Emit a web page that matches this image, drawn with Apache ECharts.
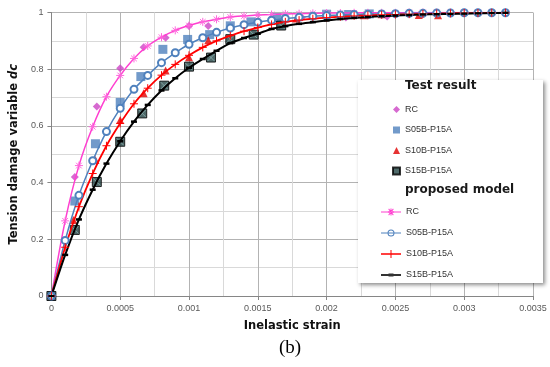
<!DOCTYPE html>
<html>
<head>
<meta charset="utf-8">
<script src="https://cdn.jsdelivr.net/npm/echarts@6/dist/echarts.min.js"></script>
<style>
html,body{margin:0;padding:0;background:#fff;}
#c{width:550px;height:367px;}
</style>
</head>
<body>
<div id="c"></div>
<script>
// ---- data ----
const modelStrain = [0,0.0001,0.0002,0.0003,0.0004,0.0005,0.0006,0.0007,0.0008,0.0009,0.001,0.0011,0.0012,0.0013,0.0014,0.0015,0.0016,0.0017,0.0018,0.0019,0.002,0.0021,0.0022,0.0023,0.0024,0.0025,0.0026,0.0027,0.0028,0.0029,0.003,0.0031,0.0032,0.0033];
const rcModel  = [0,0.265,0.46,0.597,0.703,0.778,0.838,0.882,0.913,0.937,0.954,0.967,0.976,0.984,0.988,0.991,0.993,0.995,0.996,0.997,0.998,0.998,0.999,0.999,0.999,0.999,1,1,1,1,1,1,1,1];
const s05Model = [0,0.196,0.355,0.477,0.58,0.662,0.729,0.778,0.823,0.858,0.888,0.911,0.930,0.945,0.957,0.966,0.973,0.979,0.983,0.987,0.989,0.991,0.993,0.994,0.995,0.996,0.997,0.997,0.998,0.998,0.999,0.999,0.999,0.999];
const s10Model = [0,0.172,0.315,0.432,0.53,0.609,0.678,0.733,0.779,0.817,0.849,0.877,0.900,0.918,0.934,0.947,0.958,0.967,0.973,0.978,0.982,0.985,0.988,0.990,0.992,0.993,0.994,0.995,0.996,0.997,0.998,0.998,0.999,0.999];
const s15Model = [0,0.145,0.27,0.375,0.467,0.546,0.615,0.674,0.725,0.768,0.805,0.836,0.865,0.892,0.910,0.925,0.942,0.952,0.960,0.966,0.972,0.977,0.981,0.984,0.987,0.989,0.991,0.993,0.994,0.995,0.996,0.997,0.998,0.999];

const rcTestX  = [0,0.00017,0.00033,0.0005,0.00067,0.00083,0.001,0.00114,0.00182,0.00214,0.00244];
const rcTestY  = [0,0.42,0.668,0.803,0.877,0.911,0.952,0.952,0.982,0.982,0.986];
const s05TestX = [0,0.00017,0.00032,0.0005,0.00065,0.00081,0.00099,0.00115,0.0013,0.00145,0.00164,0.002,0.00216,0.00231];
const s05TestY = [0,0.335,0.537,0.683,0.774,0.870,0.905,0.922,0.953,0.967,0.982,0.994,0.993,0.995];
const s10TestX = [0,0.00016,0.00032,0.0005,0.00067,0.00083,0.001,0.00114,0.00178,0.00211,0.00227,0.0024,0.00267,0.00281];
const s10TestY = [0,0.268,0.48,0.621,0.715,0.795,0.842,0.902,0.979,0.989,0.990,0.994,0.991,0.99];
const s15TestX = [0,0.00017,0.00033,0.0005,0.00066,0.00082,0.001,0.00116,0.0013,0.00147,0.00167];
const s15TestY = [0,0.233,0.402,0.544,0.644,0.742,0.809,0.841,0.906,0.922,0.954];

const specimens = ['RC','S05B-P15A','S10B-P15A','S15B-P15A'];
const xTicks = {min:0, max:0.0035, step:0.0005};
const yTicks = {min:0, max:1, step:0.2};
// -------------------------------------

function pairs(xs, ys){ return xs.map((x,i)=>[x, ys[i]]); }
const testName = n => n + ' ';   // distinct names for the legend, trimmed on display

const C = {rcTest:'#CC44C4', s05:'#4F81BD', s10Test:'#E00000', s15Test:'#234545',
           rcLine:'#FF3FD0', rcMark:'#FF66DD', s10Line:'#FF0000', s15Line:'#000000'};

const asterisk = 'path://M0 5L10 5M5 0L5 10M1.5 1.5L8.5 8.5M8.5 1.5L1.5 8.5';
const plus = 'path://M0 5L10 5M5 0L5 10';
const cross = 'path://M1 1L9 9M9 1L1 9';

// legend icons (line + marker), filled shapes in a 20 x 8 box
const iconRC  = 'path://M0 3.4H20V4.6H0Z M9.5 0.5H10.5V7.5H9.5Z M6.9 3.2H13.1V4.8H6.9Z M7.3 1.2L8 0.5L12.7 6.8L12 7.5Z M12.7 1.2L12 0.5L7.3 6.8L8 7.5Z';
const iconS05 = 'path://M0 3.4H20V4.6H0Z M13.5 4A3.5 3.5 0 1 1 6.5 4A3.5 3.5 0 1 1 13.5 4Z M12.5 4A2.5 2.5 0 1 0 7.5 4A2.5 2.5 0 1 0 12.5 4Z';
const iconS10 = 'path://M0 3.2H20V4.8H0Z M9.5 0H10.5V8H9.5Z';
const iconS15 = 'path://M0 0H20V0.01H0Z M0 3.1H20V4.9H0Z M7.5 2.5H12.5V5.5H7.5Z M0 7.99H20V8H0Z';

const font = '"DejaVu Sans", Verdana, sans-serif';
const labelFont = '"Liberation Sans", Arial, sans-serif';

const chart = echarts.init(document.getElementById('c'), null, {renderer:'canvas'});

const series = [
  {name:testName(specimens[0]), type:'scatter', data:pairs(rcTestX, rcTestY), symbol:'diamond', symbolSize:8, itemStyle:{color:C.rcTest}, z:3},
  {name:testName(specimens[1]), type:'scatter', data:pairs(s05TestX, s05TestY), symbol:'rect', symbolSize:9, itemStyle:{color:C.s05}, z:3},
  {name:testName(specimens[2]), type:'scatter', data:pairs(s10TestX, s10TestY), symbol:'triangle', symbolSize:8, itemStyle:{color:C.s10Test}, z:3},
  {name:testName(specimens[3]), type:'scatter', data:pairs(s15TestX, s15TestY), symbol:'rect', symbolSize:9, itemStyle:{color:C.s15Test, borderColor:'#000', borderWidth:1}, z:3},
  {name:'s15x', type:'scatter', data:pairs(s15TestX, s15TestY), symbol:cross, symbolSize:7, silent:true, itemStyle:{color:'none', borderColor:'#8fb0b0', borderWidth:1}, z:3},
  {name:specimens[0], type:'line', data:pairs(modelStrain, rcModel), smooth:0.3, symbol:asterisk, symbolSize:8, showAllSymbol:true,
    lineStyle:{color:C.rcLine, width:1.5}, itemStyle:{color:'none', borderColor:C.rcMark, borderWidth:1}, z:4},
  {name:specimens[1], type:'line', data:pairs(modelStrain, s05Model), smooth:0.3, symbol:'emptyCircle', symbolSize:7, showAllSymbol:true,
    lineStyle:{color:C.s05, width:1.5}, itemStyle:{color:C.s05, borderColor:C.s05, borderWidth:1}, z:4},
  {name:specimens[2], type:'line', data:pairs(modelStrain, s10Model), smooth:0.3, symbol:plus, symbolSize:8, showAllSymbol:true,
    lineStyle:{color:C.s10Line, width:1.8}, itemStyle:{color:'none', borderColor:C.s10Line, borderWidth:1}, z:4},
  {name:specimens[3], type:'line', data:pairs(modelStrain, s15Model), smooth:0.3, symbol:'rect', symbolSize:[6,2.5], showAllSymbol:true,
    lineStyle:{color:C.s15Line, width:2}, itemStyle:{color:'#000'}, z:4}
];

const legendText = {fontFamily:labelFont, fontSize:9, color:'#333'};
const modelIcons = [iconRC, iconS05, iconS10, iconS15];
const modelIconColors = [C.rcLine, C.s05, C.s10Line, '#333333'];

chart.setOption({
  animation:false,
  backgroundColor:'#fff',
  grid:{left:50, top:12.5, right:17, bottom:71},
  xAxis:{
    type:'value', min:xTicks.min, max:xTicks.max, interval:xTicks.step,
    name:'Inelastic strain', nameLocation:'middle', nameGap:24,
    nameTextStyle:{fontFamily:font, fontWeight:'bold', fontSize:11.5, color:'#111'},
    axisLine:{show:true, lineStyle:{color:'#868686'}},
    axisTick:{show:true, length:4, lineStyle:{color:'#868686'}},
    axisLabel:{fontFamily:labelFont, fontSize:9, color:'#595959', margin:8,
      formatter:v=>String(parseFloat(v.toFixed(5)))},
    splitLine:{show:true, lineStyle:{color:'#b3b3b3', width:1}},
    minorTick:{show:false, splitNumber:2},
    minorSplitLine:{show:true, lineStyle:{color:'#d9d9d9', width:1}}
  },
  yAxis:{
    type:'value', min:yTicks.min, max:yTicks.max, interval:yTicks.step,
    name:'{a|Tension damage variable }{b|dc}', nameLocation:'middle', nameGap:28,
    nameTextStyle:{rich:{
      a:{fontFamily:font, fontWeight:'bold', fontSize:11.5, color:'#111'},
      b:{fontFamily:font, fontWeight:'bold', fontStyle:'italic', fontSize:11.5, color:'#111'}
    }},
    axisLine:{show:true, lineStyle:{color:'#868686'}},
    axisTick:{show:true, length:4, lineStyle:{color:'#868686'}},
    axisLabel:{fontFamily:labelFont, fontSize:9, color:'#595959', margin:8,
      formatter:v=>String(parseFloat(v.toFixed(2)))},
    splitLine:{show:true, lineStyle:{color:'#b3b3b3', width:1}},
    minorTick:{show:false, splitNumber:2},
    minorSplitLine:{show:true, lineStyle:{color:'#d9d9d9', width:1}}
  },
  legend:[
    {orient:'vertical', left:392, top:105, padding:0, itemWidth:7, itemHeight:7, itemGap:11.5, z:10,
     data:specimens.map(testName), textStyle:legendText, formatter:n=>n.trim(), selectedMode:false},
    {orient:'vertical', left:381, top:207.5, padding:0, itemWidth:20, itemHeight:8, itemGap:12, z:10,
     data:specimens.map((n,i)=>({name:n, icon:modelIcons[i], itemStyle:{color:modelIconColors[i], borderWidth:0}})),
     textStyle:legendText, selectedMode:false}
  ],
  graphic:[
    {type:'rect', z:5, shape:{x:358, y:80, width:185, height:203},
     style:{fill:'#fff', shadowBlur:4, shadowOffsetX:2, shadowOffsetY:2, shadowColor:'rgba(0,0,0,0.45)'}},
    {type:'text', z:10, left:405, top:80, style:{text:'Test result', font:'bold 12px '+font, fill:'#1a1a1a'}},
    {type:'text', z:10, left:405, top:184, style:{text:'proposed model', font:'bold 12px '+font, fill:'#1a1a1a'}},
    {type:'text', z:10, left:279, top:339, style:{text:'(b)', font:'19px "Liberation Serif", "Times New Roman", serif', fill:'#000'}}
  ],
  series:series
});
</script>
</body>
</html>
